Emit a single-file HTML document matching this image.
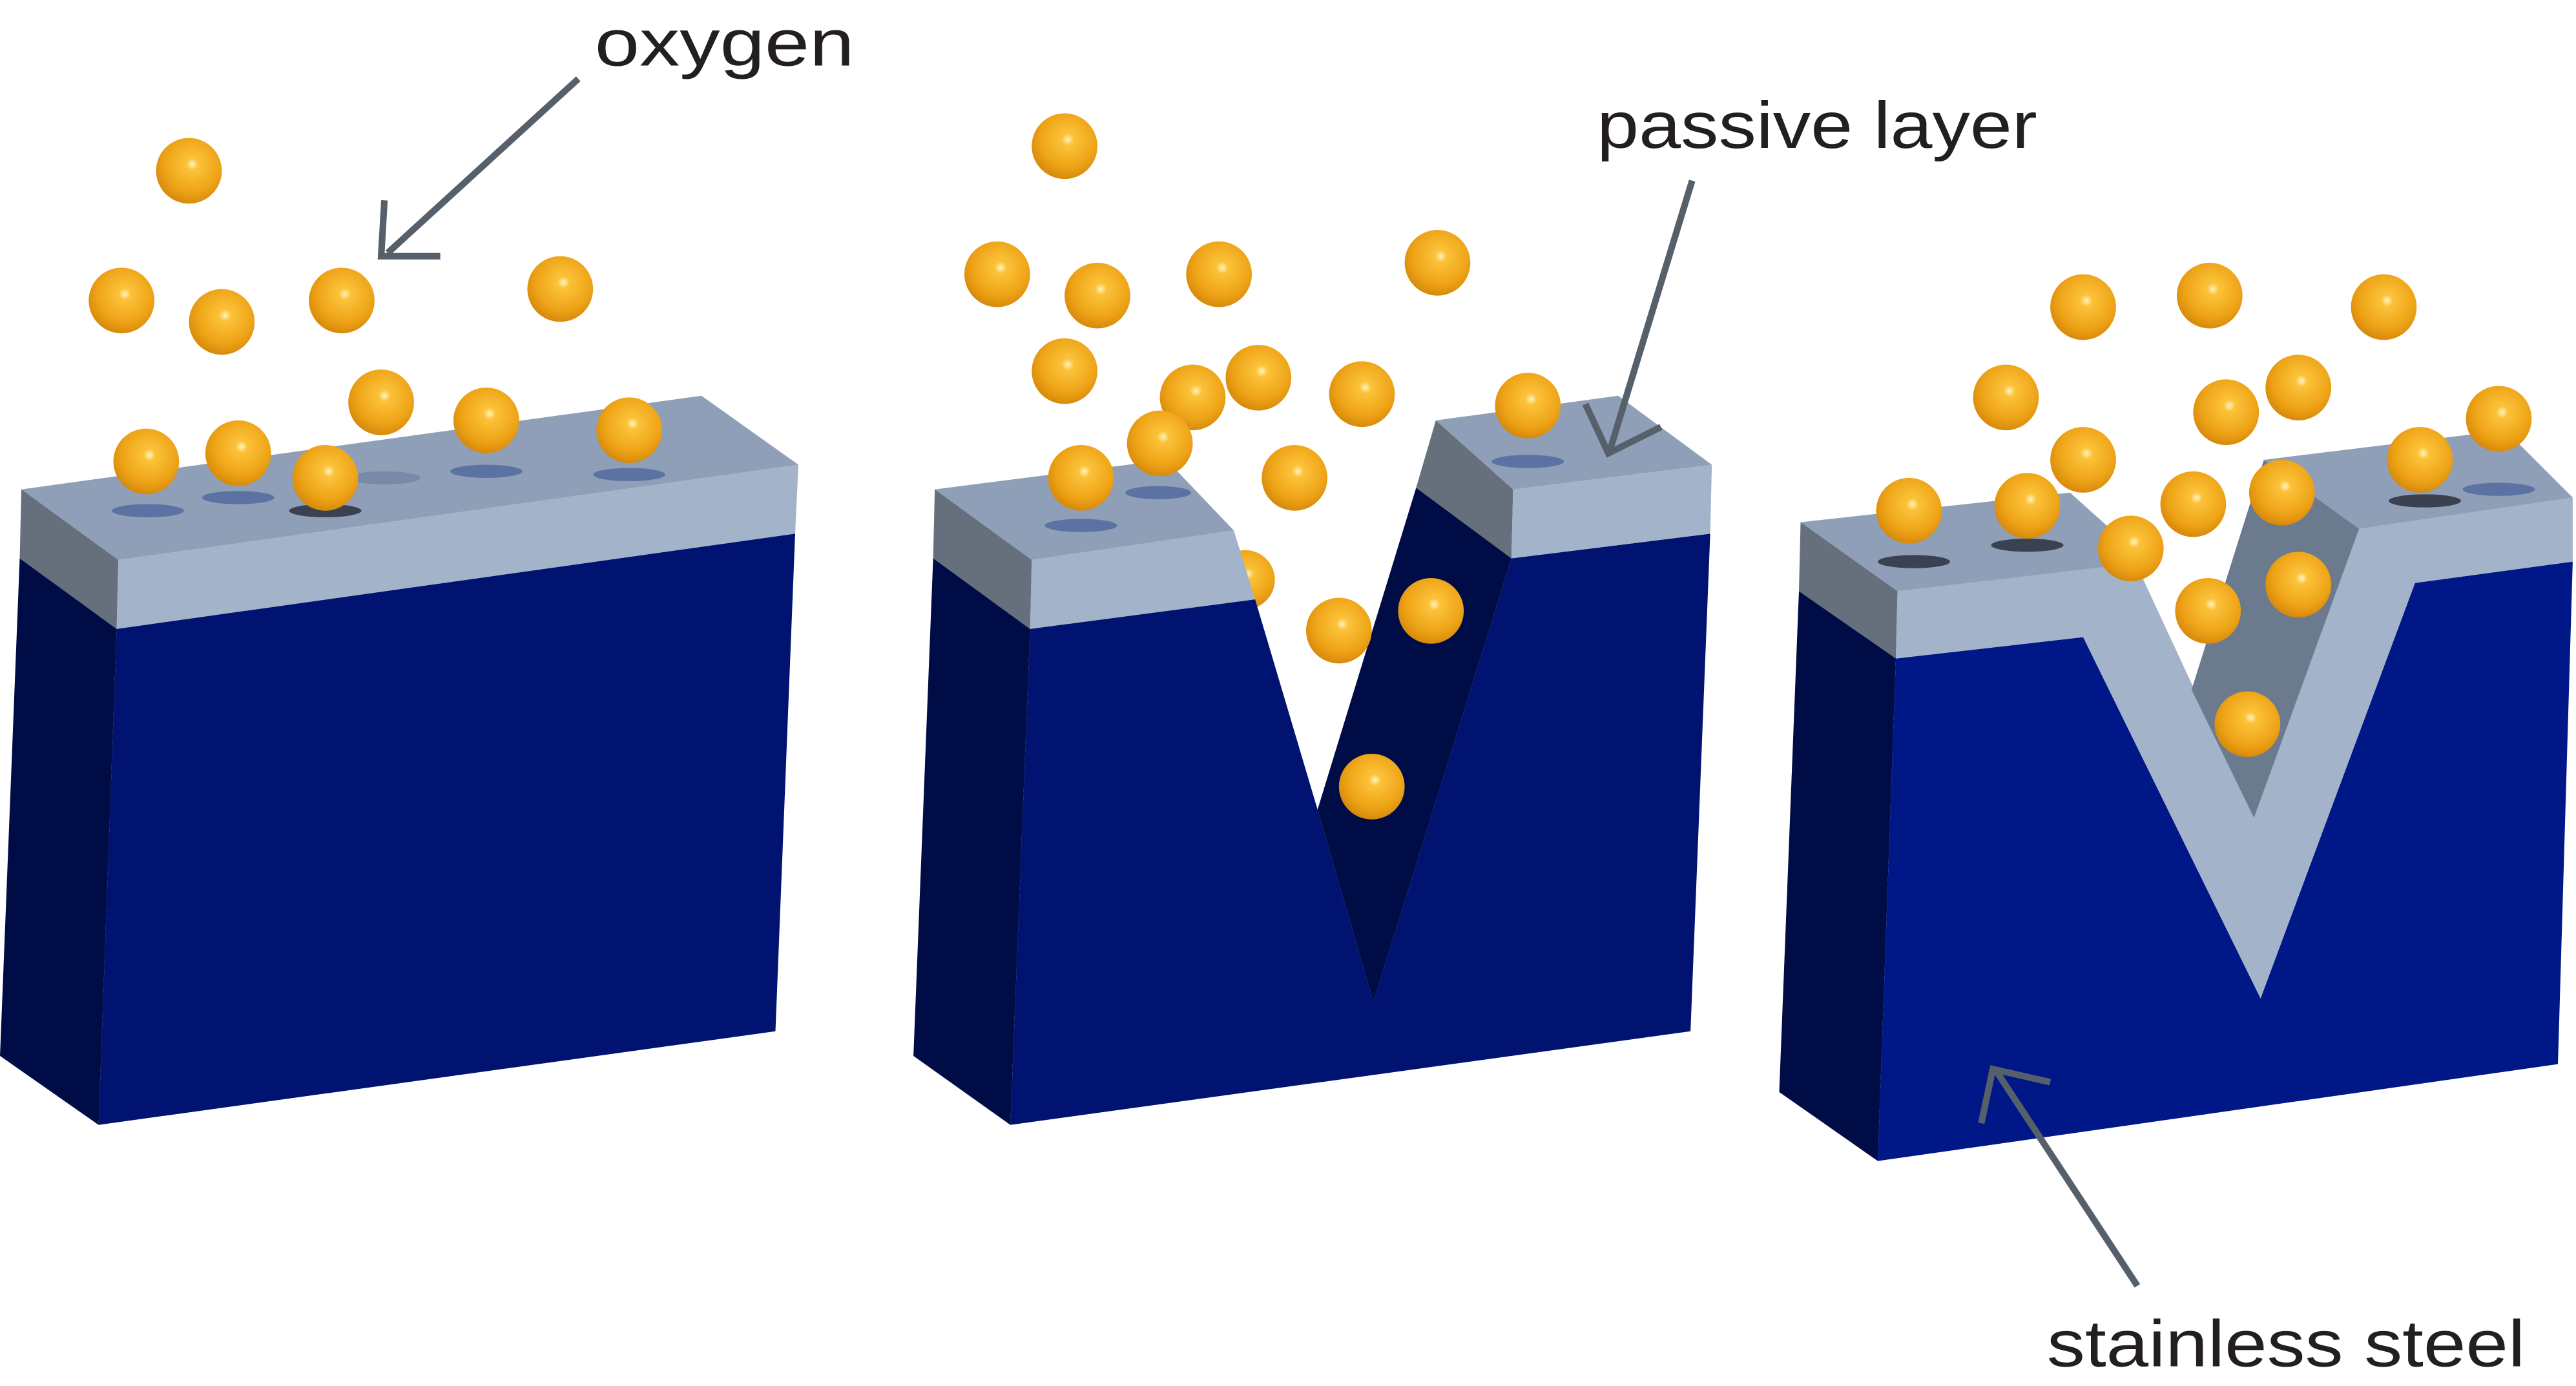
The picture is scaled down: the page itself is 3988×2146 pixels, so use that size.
<!DOCTYPE html>
<html><head><meta charset="utf-8"><style>
html,body{margin:0;padding:0;background:#fff;}
svg{display:block;}
text{font-family:"Liberation Sans",sans-serif;fill:#231f20;}
</style></head><body>
<svg width="3988" height="2146" viewBox="0 0 1568 844" preserveAspectRatio="none" xmlns="http://www.w3.org/2000/svg">
<defs>
<radialGradient id="s" cx="0.55" cy="0.4" r="0.6">
<stop offset="0" stop-color="#fff6c0"/><stop offset="0.15" stop-color="#fcc23a"/><stop offset="0.7" stop-color="#eea417"/><stop offset="1" stop-color="#d88a0c"/>
</radialGradient>
</defs>
<rect width="1568" height="844" fill="#fff"/>
<circle cx="758" cy="353" r="18" fill="url(#s)"/>
<!-- Block 1 -->
<polygon points="13,298 427,241 486,283 72,341" fill="#8f9fb7"/>
<polygon points="72,341 486,283 484,325 71,383" fill="#a3b3c9"/>
<polygon points="13,298 72,341 71,383 12,340" fill="#66707c"/>
<polygon points="71,383 484,325 472,628 60,685" fill="#001370"/>
<polygon points="12,340 71,383 60,685 0,643" fill="#000c45"/>
<g fill="#5b72a3"><ellipse cx="90" cy="311" rx="22" ry="4"/><ellipse cx="145" cy="303" rx="22" ry="4"/><ellipse cx="234" cy="291" rx="22" ry="4" fill="#7a89a8"/><ellipse cx="296" cy="287" rx="22" ry="4"/><ellipse cx="383" cy="289" rx="22" ry="4"/><ellipse cx="198" cy="311" rx="22" ry="4" fill="#3a4150"/></g>
<!-- Block 2 -->
<polygon points="569,298 710,280 751,323 628,341" fill="#8f9fb7"/>
<polygon points="628,341 751,323 764,365 627,383" fill="#a3b3c9"/>
<polygon points="569,298 628,341 627,383 568,340" fill="#66707c"/>
<polygon points="568,340 627,383 615,685 556,643" fill="#000c45"/>
<polygon points="627,383 764,365 802,493 836,610 920,340 1041,325 1029,628 615,685" fill="#001370"/>
<polygon points="862,297 920,340 836,610 802,493" fill="#000c45"/>
<polygon points="874,256 921,298 920,340 862,297" fill="#66707c"/>
<polygon points="874,256 985,241 1042,283 921,298" fill="#8f9fb7"/>
<polygon points="921,298 1042,283 1041,325 920,340" fill="#a3b3c9"/>
<g fill="#5b72a3"><ellipse cx="658" cy="320" rx="22" ry="4"/><ellipse cx="705" cy="300" rx="20" ry="4"/><ellipse cx="930" cy="281" rx="22" ry="4"/></g>
<!-- Block 3 -->
<polygon points="1096,318 1260,300 1308,343 1155,360" fill="#8f9fb7"/>
<polygon points="1096,318 1155,360 1154,401 1095,360" fill="#66707c"/>
<polygon points="1095,360 1154,401 1143,707 1083,665" fill="#000c45"/>
<polygon points="1154,401 1268,388 1376,608 1470,355 1566,342 1557,648 1143,707" fill="#001787"/>
<polygon points="1155,360 1300,343 1372,498 1436,322 1566,303 1566,342 1470,355 1376,608 1268,388 1154,401" fill="#a3b3c9"/>
<polygon points="1378,280 1436,322 1372,498 1334,420" fill="#6c7a8e"/>
<polygon points="1378,280 1525,262 1566,303 1436,322" fill="#8f9fb7"/>
<g fill="#3a4150"><ellipse cx="1165" cy="342" rx="22" ry="4"/><ellipse cx="1234" cy="332" rx="22" ry="4"/><ellipse cx="1476" cy="305" rx="22" ry="4"/></g>
<ellipse cx="1521" cy="298" rx="22" ry="4" fill="#5b72a3"/>
<!-- spheres -->
<g fill="url(#s)">
<circle cx="115" cy="104" r="20"/><circle cx="74" cy="183" r="20"/><circle cx="135" cy="196" r="20"/><circle cx="208" cy="183" r="20"/><circle cx="341" cy="176" r="20"/><circle cx="232" cy="245" r="20"/><circle cx="296" cy="256" r="20"/><circle cx="383" cy="262" r="20"/><circle cx="89" cy="281" r="20"/><circle cx="145" cy="276" r="20"/><circle cx="198" cy="291" r="20"/>
<circle cx="648" cy="89" r="20"/><circle cx="607" cy="167" r="20"/><circle cx="668" cy="180" r="20"/><circle cx="742" cy="167" r="20"/><circle cx="875" cy="160" r="20"/><circle cx="648" cy="226" r="20"/><circle cx="726" cy="242" r="20"/><circle cx="766" cy="230" r="20"/><circle cx="829" cy="240" r="20"/><circle cx="930" cy="247" r="20"/><circle cx="706" cy="270" r="20"/><circle cx="788" cy="291" r="20"/><circle cx="658" cy="291" r="20"/><circle cx="815" cy="384" r="20"/><circle cx="871" cy="372" r="20"/><circle cx="835" cy="479" r="20"/>
<circle cx="1268" cy="187" r="20"/><circle cx="1345" cy="180" r="20"/><circle cx="1451" cy="187" r="20"/><circle cx="1221" cy="242" r="20"/><circle cx="1355" cy="251" r="20"/><circle cx="1399" cy="236" r="20"/><circle cx="1521" cy="255" r="20"/><circle cx="1268" cy="280" r="20"/><circle cx="1473" cy="280" r="20"/><circle cx="1162" cy="311" r="20"/><circle cx="1234" cy="308" r="20"/><circle cx="1297" cy="334" r="20"/><circle cx="1335" cy="307" r="20"/><circle cx="1389" cy="300" r="20"/><circle cx="1399" cy="356" r="20"/><circle cx="1344" cy="372" r="20"/><circle cx="1368" cy="441" r="20"/>
</g>
<!-- arrows -->
<g stroke="#56606a" stroke-width="4" fill="none">
<line x1="352" y1="48" x2="236" y2="154"/><polyline points="234,122 232,156 268,156"/>
<line x1="1030" y1="110" x2="980" y2="274"/><polyline points="965,246 979,276 1011,260"/>
<line x1="1301" y1="783" x2="1215" y2="652"/><polyline points="1206,684 1213,651 1248,659"/>
</g>
<text x="362" y="40" font-size="40" textLength="158" lengthAdjust="spacingAndGlyphs">oxygen</text>
<text x="972" y="90" font-size="40" textLength="268" lengthAdjust="spacingAndGlyphs">passive layer</text>
<text x="1246" y="832" font-size="40" textLength="291" lengthAdjust="spacingAndGlyphs">stainless steel</text>
</svg>
</body></html>
